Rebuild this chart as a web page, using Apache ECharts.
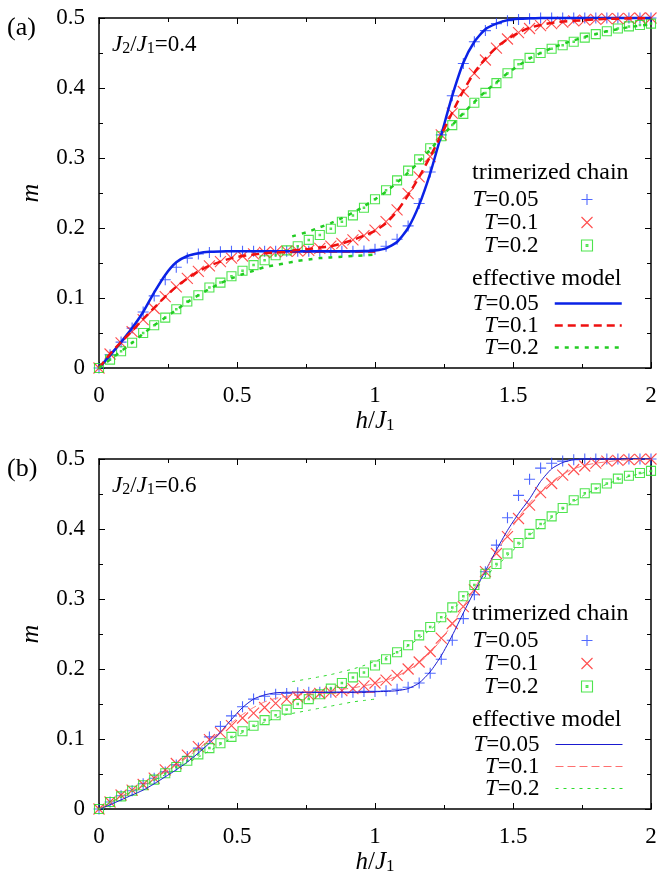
<!DOCTYPE html>
<html>
<head>
<meta charset="utf-8">
<script src="https://cdn.jsdelivr.net/npm/echarts@6/dist/echarts.min.js"></script>
<style>
  html, body { margin: 0; padding: 0; background: #fff; }
  #chart { width: 662px; height: 884px; }
</style>
</head>
<body>
<div id="chart"></div>
<script>
// field grid of the chain data (h/J1)
const hChain = [0, 0.04, 0.08, 0.12, 0.16, 0.2, 0.24, 0.28, 0.32, 0.36, 0.4, 0.44, 0.48,
  0.52, 0.56, 0.6, 0.64, 0.68, 0.72, 0.76, 0.8, 0.84, 0.88, 0.92, 0.96,
  1, 1.04, 1.08, 1.12, 1.16, 1.2, 1.24, 1.28, 1.32, 1.36, 1.4, 1.44, 1.48, 1.52, 1.56,
  1.6, 1.64, 1.68, 1.72, 1.76, 1.8, 1.84, 1.88, 1.92, 1.96, 2]
// field grids of the two effective-model pieces
const hLow = [0, 0.04, 0.08, 0.12, 0.16, 0.2, 0.24, 0.28, 0.32, 0.36, 0.4, 0.44, 0.48,
  0.52, 0.56, 0.6, 0.64, 0.68, 0.72, 0.76, 0.8, 0.84, 0.88, 0.92, 0.96, 1]
const hHigh = [0.7, 0.76, 0.8, 0.84, 0.88, 0.92, 0.96, 1, 1.04, 1.08, 1.12, 1.16, 1.2, 1.24,
  1.28, 1.32, 1.36, 1.4, 1.44, 1.48, 1.52, 1.56, 1.6, 1.64, 1.68, 1.72, 1.76, 1.8, 1.84,
  1.88, 1.92, 1.96, 2]

const tLabels = ['0.05', '0.1', '0.2']
const ratioLabels = ['0.4', '0.6']

// (a) J2/J1 = 0.4 : trimerized chain
const aChainT005 = [0, 0.019, 0.037, 0.057, 0.080, 0.103, 0.126, 0.144, 0.157, 0.163, 0.165, 0.166, 0.1667,
  0.1667, 0.1667, 0.1667, 0.1667, 0.1667, 0.1667, 0.1667, 0.1667, 0.1667, 0.1667, 0.1668, 0.167,
  0.1695, 0.174, 0.184, 0.203, 0.235, 0.280, 0.333, 0.389, 0.435, 0.466, 0.482, 0.492, 0.496, 0.498, 0.499,
  0.5, 0.5, 0.5, 0.5, 0.5, 0.5, 0.5, 0.5, 0.5, 0.5, 0.5]
const aChainT01 = [0, 0.020, 0.036, 0.052, 0.069, 0.085, 0.102, 0.116, 0.128, 0.138, 0.146, 0.152, 0.157,
  0.160, 0.163, 0.165, 0.166, 0.167, 0.167, 0.168, 0.171, 0.174, 0.178, 0.183, 0.189,
  0.197, 0.209, 0.226, 0.249, 0.273, 0.302, 0.333, 0.364, 0.395, 0.421, 0.440, 0.457, 0.470, 0.479, 0.485,
  0.489, 0.492, 0.494, 0.496, 0.497, 0.498, 0.499, 0.499, 0.4995, 0.5, 0.5]
const aChainT02 = [0, 0.012, 0.024, 0.036, 0.050, 0.061, 0.072, 0.084, 0.095, 0.104, 0.115, 0.122, 0.131,
  0.139, 0.147, 0.154, 0.161, 0.168, 0.174, 0.183, 0.190, 0.199, 0.209, 0.218, 0.229,
  0.241, 0.254, 0.268, 0.282, 0.298, 0.314, 0.331, 0.347, 0.363, 0.379, 0.393, 0.407, 0.421, 0.434, 0.443,
  0.450, 0.456, 0.461, 0.466, 0.472, 0.477, 0.481, 0.485, 0.488, 0.490, 0.492]

// (a) effective model, low-field and high-field pieces
const aEffLowT005 = [0, 0.018, 0.037, 0.057, 0.080, 0.108, 0.133, 0.151, 0.160, 0.164, 0.166, 0.1665, 0.1667,
  0.1667, 0.1667, 0.1667, 0.1667, 0.1667, 0.1667, 0.1667, 0.1667, 0.1667, 0.1667, 0.1667, 0.1667, 0.1667]
const aEffLowT01 = [0, 0.020, 0.037, 0.053, 0.070, 0.086, 0.102, 0.116, 0.128, 0.138, 0.146, 0.152, 0.157,
  0.160, 0.162, 0.164, 0.165, 0.1655, 0.166, 0.166, 0.1663, 0.1665, 0.1665, 0.1665, 0.1665, 0.1665]
const aEffLowT02 = [0, 0.012, 0.024, 0.036, 0.049, 0.061, 0.072, 0.083, 0.094, 0.104, 0.113, 0.121, 0.128,
  0.134, 0.139, 0.144, 0.147, 0.150, 0.153, 0.155, 0.157, 0.158, 0.159, 0.160, 0.161, 0.162]
const aEffHighT005 = [0.1667, 0.1667, 0.1667, 0.1667, 0.1667, 0.1668, 0.167, 0.168, 0.171, 0.180, 0.200,
  0.233, 0.278, 0.333, 0.389, 0.436, 0.466, 0.484, 0.492, 0.497, 0.499, 0.4995,
  0.5, 0.5, 0.5, 0.5, 0.5, 0.5, 0.5, 0.5, 0.5, 0.5, 0.5]
const aEffHighT01 = [0.168, 0.170, 0.172, 0.174, 0.178, 0.183, 0.189, 0.196, 0.207, 0.224, 0.247,
  0.273, 0.302, 0.333, 0.365, 0.396, 0.422, 0.442, 0.458, 0.470, 0.479, 0.486,
  0.490, 0.493, 0.495, 0.496, 0.497, 0.498, 0.499, 0.499, 0.4995, 0.4995, 0.4995]
const aEffHighT02 = [0.188, 0.195, 0.201, 0.207, 0.214, 0.222, 0.231, 0.241, 0.252, 0.265, 0.279,
  0.295, 0.312, 0.330, 0.347, 0.364, 0.380, 0.395, 0.408, 0.421, 0.432, 0.442,
  0.450, 0.457, 0.463, 0.468, 0.473, 0.477, 0.481, 0.484, 0.487, 0.489, 0.491]

// (b) J2/J1 = 0.6 : trimerized chain
const bChainT005 = [0, 0.010, 0.019, 0.026, 0.036, 0.044, 0.053, 0.063, 0.075, 0.087, 0.103, 0.118, 0.133,
  0.146, 0.157, 0.161, 0.164, 0.165, 0.166, 0.1667, 0.1667, 0.1667, 0.1667, 0.1667, 0.168,
  0.168, 0.169, 0.171, 0.174, 0.180, 0.194, 0.214, 0.241, 0.272, 0.306, 0.339, 0.377, 0.416, 0.448, 0.471,
  0.487, 0.494, 0.497, 0.499, 0.5, 0.5, 0.5, 0.5, 0.5, 0.5, 0.5]
const bChainT01 = [0, 0.010, 0.020, 0.027, 0.035, 0.044, 0.056, 0.065, 0.077, 0.089, 0.099, 0.109, 0.119,
  0.130, 0.137, 0.145, 0.151, 0.157, 0.160, 0.163, 0.165, 0.167, 0.169, 0.172, 0.176,
  0.180, 0.184, 0.191, 0.200, 0.210, 0.225, 0.244, 0.265, 0.289, 0.313, 0.339, 0.365, 0.389, 0.415, 0.434,
  0.452, 0.465, 0.477, 0.485, 0.490, 0.494, 0.497, 0.498, 0.499, 0.4995, 0.5]
const bChainT02 = [0, 0.010, 0.018, 0.026, 0.034, 0.042, 0.051, 0.060, 0.069, 0.078, 0.087, 0.094, 0.103,
  0.111, 0.119, 0.127, 0.134, 0.142, 0.150, 0.157, 0.164, 0.172, 0.180, 0.188, 0.195,
  0.205, 0.214, 0.224, 0.234, 0.248, 0.260, 0.274, 0.288, 0.304, 0.320, 0.336, 0.350, 0.365, 0.380, 0.393,
  0.407, 0.418, 0.430, 0.441, 0.451, 0.458, 0.465, 0.472, 0.476, 0.480, 0.483]

// (b) effective model
const bEffLowT005 = [0, 0.006, 0.013, 0.020, 0.027, 0.036, 0.046, 0.056, 0.067, 0.080, 0.094, 0.110, 0.128,
  0.145, 0.157, 0.163, 0.166, 0.1667, 0.1667, 0.1667, 0.1667, 0.1667, 0.1667, 0.1667, 0.1667, 0.1667]
const bEffLowT01 = [0, 0.009, 0.018, 0.026, 0.034, 0.043, 0.053, 0.063, 0.074, 0.086, 0.098, 0.111, 0.123,
  0.135, 0.145, 0.153, 0.158, 0.161, 0.163, 0.164, 0.165, 0.1655, 0.166, 0.166, 0.1663, 0.1665]
const bEffLowT02 = [0, 0.009, 0.017, 0.025, 0.033, 0.041, 0.049, 0.057, 0.066, 0.074, 0.083, 0.092, 0.101,
  0.109, 0.117, 0.124, 0.130, 0.135, 0.138, 0.141, 0.144, 0.147, 0.150, 0.153, 0.155, 0.157]
const bEffHighT005 = [0.1667, 0.1667, 0.1667, 0.1667, 0.1667, 0.1668, 0.167, 0.1675, 0.168, 0.169, 0.172,
  0.180, 0.196, 0.219, 0.248, 0.280, 0.311, 0.340, 0.370, 0.398, 0.422, 0.443,
  0.468, 0.486, 0.495, 0.499, 0.5, 0.5, 0.5, 0.5, 0.5, 0.5, 0.5]
const bEffHighT01 = [0.167, 0.1675, 0.168, 0.169, 0.171, 0.173, 0.176, 0.179, 0.184, 0.190, 0.198,
  0.209, 0.223, 0.242, 0.264, 0.289, 0.315, 0.341, 0.367, 0.392, 0.416, 0.437,
  0.454, 0.467, 0.478, 0.486, 0.491, 0.494, 0.496, 0.498, 0.499, 0.4995, 0.4995]
const bEffHighT02 = [0.182, 0.186, 0.189, 0.192, 0.196, 0.200, 0.205, 0.211, 0.217, 0.224, 0.233,
  0.244, 0.256, 0.269, 0.284, 0.300, 0.316, 0.332, 0.347, 0.362, 0.377, 0.391,
  0.404, 0.416, 0.428, 0.439, 0.449, 0.457, 0.464, 0.470, 0.475, 0.479, 0.483]

const FONT = '"Liberation Serif", "Times New Roman", serif'
const SYM_PLUS = 'path://M5,0 L5,10 M0,5 L10,5'
const SYM_CROSS = 'path://M0,0 L10,10 M10,0 L0,10'
const SYM_BOX = 'path://M0,0 L10,0 L10,10 L0,10 Z M4.2,4.2 L5.8,4.2 L5.8,5.8 L4.2,5.8 Z'

const zip = (xs, ys) => xs.map((x, i) => [x, ys[i]])

const panels = [
  {
    tag: '(a)', top: 18,
    chain: [aChainT005, aChainT01, aChainT02],
    low: [aEffLowT005, aEffLowT01, aEffLowT02],
    high: [aEffHighT005, aEffHighT01, aEffHighT02],
    lineWidth: 2.5,
    lineColors: ['#0a22e6', '#ee1010', '#22cc22'],
    dashes: ['solid', [8, 5], [4, 6]]
  },
  {
    tag: '(b)', top: 459,
    chain: [bChainT005, bChainT01, bChainT02],
    low: [bEffLowT005, bEffLowT01, bEffLowT02],
    high: [bEffHighT005, bEffHighT01, bEffHighT02],
    lineWidth: 1,
    lineColors: ['#1a1ad0', '#ff7070', '#2edc2e'],
    dashes: ['solid', [8, 4], [3, 5]]
  }
]

const chainSymbols = [SYM_PLUS, SYM_CROSS, SYM_BOX]
const chainSizes = [11, 11, 9]
const chainColors = ['#2444ff', '#ff2020', '#22dd22']

const makeRich = (size, lh) => ({
  i: { fontFamily: FONT, fontStyle: 'italic', fontSize: size, lineHeight: lh, color: '#000' },
  n: { fontFamily: FONT, fontSize: size, lineHeight: lh, color: '#000' },
  s: { fontFamily: FONT, fontSize: Math.round(size * 0.68), lineHeight: 8, verticalAlign: 'bottom', color: '#000' }
})
// odd line height keeps the 1px legend lines on the pixel grid
const richLegend = makeRich(23, 23)
const richName = makeRich(25, 25)
const richRatio = makeRich(23, 23)

const grids = []
const xAxes = []
const yAxes = []
const series = []
const legends = []
const graphics = []

panels.forEach((p, k) => {
  grids.push({ left: 99, top: p.top, width: 552, height: 350, outerBoundsMode: 'none' })

  const tickCommon = {
    axisLine: { onZero: false, lineStyle: { color: '#000', width: 1.5 } },
    axisTick: { inside: true, length: 6, lineStyle: { color: '#000', width: 1 } },
    minorTick: { show: true, splitNumber: 2, length: 4, lineStyle: { color: '#000', width: 1 } },
    splitLine: { show: false },
    minorSplitLine: { show: false }
  }
  xAxes.push({
    gridIndex: k, type: 'value', min: 0, max: 2, interval: 0.5, position: 'bottom',
    ...tickCommon,
    axisLabel: { fontFamily: FONT, fontSize: 23, color: '#000', margin: 16 },
    name: '{i|h}{n|/}{i|J}{s|1}', nameLocation: 'middle', nameGap: 41,
    nameTextStyle: { rich: richName }
  })
  xAxes.push({
    gridIndex: k, type: 'value', min: 0, max: 2, interval: 0.5, position: 'top',
    ...tickCommon, axisLabel: { show: false }
  })
  yAxes.push({
    gridIndex: k, type: 'value', min: 0, max: 0.5, interval: 0.1, position: 'left',
    ...tickCommon,
    axisLabel: { fontFamily: FONT, fontSize: 23, color: '#000', margin: 14 },
    name: 'm', nameLocation: 'middle', nameGap: 55,
    nameTextStyle: { fontFamily: FONT, fontStyle: 'italic', fontSize: 26, color: '#000' }
  })
  yAxes.push({
    gridIndex: k, type: 'value', min: 0, max: 0.5, interval: 0.1, position: 'right',
    ...tickCommon, axisLabel: { show: false }
  })

  const chainItems = []
  const effItems = []
  p.chain.forEach((vals, t) => {
    const name = p.tag + ' chain ' + tLabels[t]
    chainItems.push({ name })
    series.push({
      type: 'scatter', name, xAxisIndex: 2 * k, yAxisIndex: 2 * k,
      data: zip(hChain, vals),
      symbol: chainSymbols[t], symbolSize: chainSizes[t], clip: false,
      itemStyle: { color: 'none', borderColor: chainColors[t], borderWidth: 1.1 },
      emphasis: { disabled: true }, silent: true, z: 2
    })
  })
  ;[p.low, p.high].forEach((piece, j) => {
    piece.forEach((vals, t) => {
      const name = p.tag + ' eff ' + tLabels[t]
      if (j === 0) {
        effItems.push({
          name,
          lineStyle: { color: p.lineColors[t], width: p.lineWidth, type: p.dashes[t] },
          itemStyle: { opacity: 0 }
        })
      }
      series.push({
        type: 'line', name, xAxisIndex: 2 * k, yAxisIndex: 2 * k,
        data: zip(j === 0 ? hLow : hHigh, vals),
        symbol: 'none', smooth: 0.2, clip: false,
        lineStyle: { color: p.lineColors[t], width: p.lineWidth, type: p.dashes[t] },
        itemStyle: { color: p.lineColors[t] },
        emphasis: { disabled: true }, silent: true, z: 3
      })
    })
  })

  const fmt = name => '{i|T}{n|=' + name.split(' ').pop() + '}'
  legends.push({
    data: chainItems, orient: 'vertical', align: 'right', right: 67, top: p.top + 170,
    padding: 0, itemGap: 0, itemWidth: 11, itemHeight: 11, selectedMode: false,
    itemStyle: { borderWidth: 1.1 },
    formatter: fmt, textStyle: { rich: richLegend, lineHeight: 23, padding: [0, 38, 0, 0] }
  })
  legends.push({
    data: effItems, orient: 'vertical', align: 'right', right: 39, top: p.top + 274,
    padding: 0, itemGap: -1, itemWidth: 67, itemHeight: 11, selectedMode: false,
    formatter: fmt, textStyle: { rich: richLegend, lineHeight: 23, padding: [0, 11, 0, 0] }
  })

  graphics.push({
    type: 'text', x: 7, y: p.top + 10,
    style: { text: p.tag, font: '26px ' + FONT, fill: '#000', verticalAlign: 'middle' }
  })
  graphics.push({
    type: 'text', x: 112, y: p.top + 27,
    style: {
      text: '{i|J}{s|2}{n|/}{i|J}{s|1}{n|=' + ratioLabels[k] + '}',
      rich: richRatio, verticalAlign: 'middle'
    }
  })
  graphics.push({
    type: 'text', x: 472, y: p.top + 155,
    style: { text: 'trimerized chain', font: '24px ' + FONT, fill: '#000', verticalAlign: 'middle' }
  })
  graphics.push({
    type: 'text', x: 472, y: p.top + 261,
    style: { text: 'effective model', font: '24px ' + FONT, fill: '#000', verticalAlign: 'middle' }
  })
})

const chart = echarts.init(document.getElementById('chart'), null, { renderer: 'canvas' })
chart.setOption({
  backgroundColor: '#fff',
  animation: false,
  grid: grids,
  xAxis: xAxes,
  yAxis: yAxes,
  legend: legends,
  graphic: graphics,
  series
})
</script>
</body>
</html>
